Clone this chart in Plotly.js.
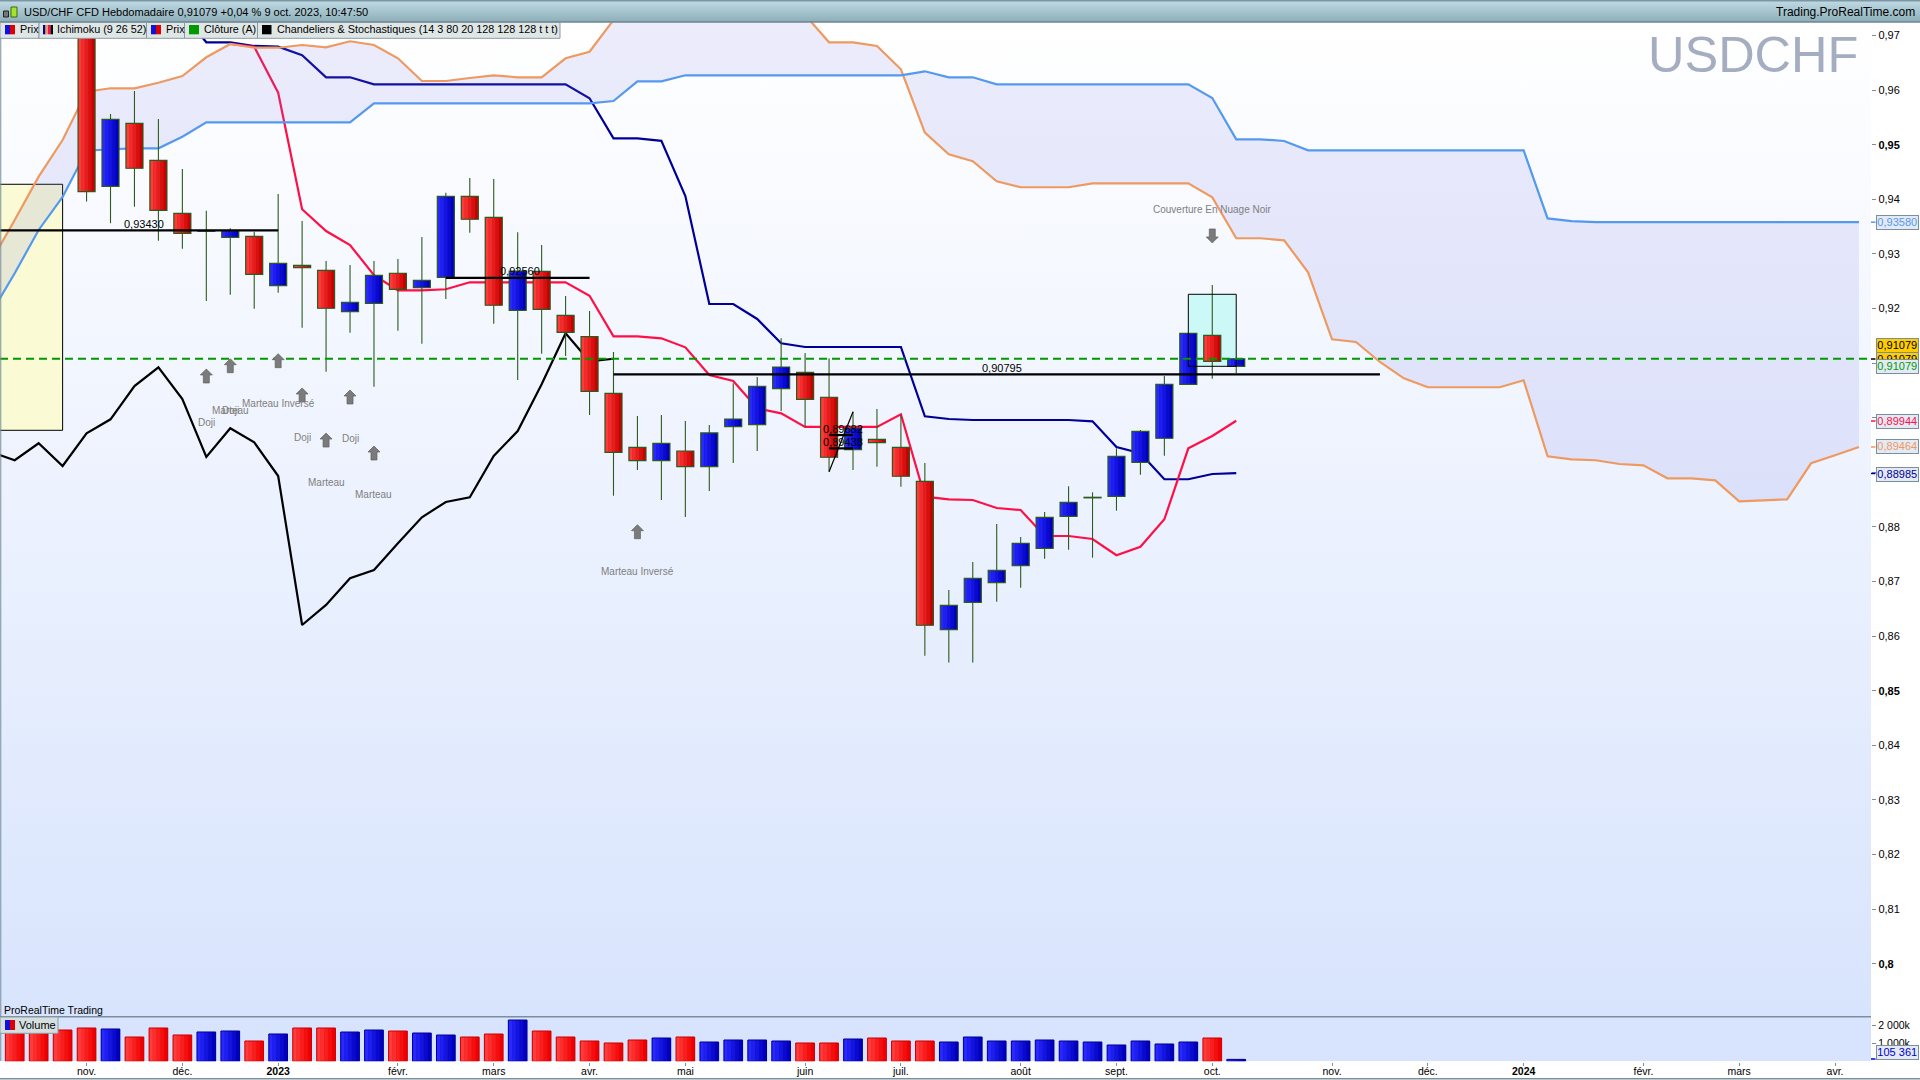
<!DOCTYPE html>
<html><head><meta charset="utf-8">
<script src="https://cdn.plot.ly/plotly-3.0.0.min.js"></script>
<style>
html,body{margin:0;padding:0;background:#fff;width:1920px;height:1080px;overflow:hidden}
#wrap{position:relative;width:1920px;height:1080px;background:#fff}
.b{position:absolute}
#head{left:0;top:0;width:1920px;height:22px;background:linear-gradient(#7d96a2 0,#7d96a2 1px,#bcd8e2 2px,#8fb0ba 21px,#6f8894 22px)}
#main{left:0;top:22px;width:1871px;height:995px;background:linear-gradient(#ffffff,#d8e4fd)}
#vol{left:0;top:1017px;width:1871px;height:44px;background:#d8e4fd}
#chart{position:absolute;left:0;top:0}
</style></head><body>
<div id="wrap"><div class="b" id="head"></div><div class="b" id="main"></div><div class="b" id="vol"></div><div id="chart"></div></div>
<script>
// ---- weekly candles, index 0 = first visible week ----
const open_=[1.0020,1.0000,0.9990,0.9990,0.94238,0.95392,0.94714,0.93743,0.93415,0.93304,0.93322,0.92417,0.92791,0.92699,0.91941,0.92095,0.92645,0.92381,0.92571,0.94055,0.9367,0.91967,0.92681,0.91875,0.91483,0.90447,0.89458,0.89212,0.8939,0.89102,0.89835,0.89872,0.90531,0.90831,0.90374,0.89414,0.89604,0.89458,0.88835,0.86117,0.86619,0.86978,0.87289,0.87608,0.88194,0.88532,0.8856,0.89183,0.89623,0.90611,0.91509,0.90941];
const high_=[1.0050,1.0056,1.0080,1.0120,0.95562,0.95983,0.95471,0.94555,0.93791,0.93469,0.93406,0.94097,0.93602,0.9287,0.92797,0.9287,0.92906,0.93309,0.94121,0.9439,0.94372,0.93395,0.93163,0.92229,0.91954,0.91203,0.90031,0.90049,0.89939,0.89866,0.9063,0.90745,0.91454,0.91185,0.91088,0.9011,0.90159,0.90049,0.8917,0.86844,0.87357,0.88053,0.87815,0.88273,0.88743,0.88634,0.89439,0.89775,0.90764,0.91546,0.9243,0.91079];
const low_=[0.9920,0.9890,0.9870,0.9396,0.9356,0.93864,0.93242,0.93095,0.92137,0.92253,0.91996,0.92289,0.91648,0.90842,0.91557,0.90568,0.91593,0.91355,0.92174,0.93388,0.91721,0.9069,0.91172,0.9113,0.90049,0.88571,0.89042,0.88492,0.88181,0.88657,0.8917,0.8939,0.90123,0.8983,0.89011,0.89042,0.89102,0.88736,0.85641,0.85516,0.85516,0.8663,0.86886,0.87417,0.87582,0.87436,0.88297,0.88956,0.89304,0.90611,0.90714,0.90813];
const close_=[0.9940,0.9950,0.9935,0.9414,0.95465,0.94568,0.93798,0.93377,0.93425,0.93425,0.92626,0.92828,0.92747,0.92004,0.92113,0.92608,0.92351,0.92516,0.94055,0.93634,0.92059,0.92687,0.91985,0.91564,0.90483,0.89366,0.89212,0.89531,0.89102,0.8972,0.89976,0.90575,0.90928,0.90337,0.89275,0.89811,0.89542,0.88927,0.86198,0.86564,0.87058,0.87205,0.877,0.88176,0.8845,0.88542,0.89293,0.89751,0.90611,0.91546,0.91033,0.91079];
const volume_=[1633,1633,1725,1835,1780,1339,1835,1450,1615,1670,1119,1505,1835,1835,1614,1724,1669,1559,1449,1339,1504,2275,1670,1339,1119,1009,1174,1284,1339,1064,1174,1174,1119,1009,1009,1229,1284,1119,1119,1064,1339,1119,1119,1174,1119,1064,899,1119,954,1064,1284,105.361];
// ---- Ichimoku lines ----
const kijunStart=7;
const kijun=[0.97412,0.96875,0.96875,0.96808,0.96795,0.96637,0.96234,0.96234,0.96106,0.96106,0.96106,0.96106,0.96106,0.96106,0.96106,0.96106,0.96106,0.9585,0.95115,0.95115,0.95071,0.9406,0.92082,0.92082,0.91808,0.91363,0.91295,0.91295,0.91295,0.91295,0.91295,0.90025,0.89976,0.89958,0.89958,0.89958,0.89958,0.89958,0.89934,0.89463,0.89348,0.88872,0.88872,0.88969,0.88985];
const tenkanStart=9;
const tenkan=[0.96844,0.96795,0.95952,0.93817,0.93419,0.93163,0.92608,0.92333,0.92333,0.92352,0.9248,0.9248,0.9248,0.9248,0.9248,0.92234,0.91491,0.91491,0.91454,0.91289,0.90782,0.90672,0.90172,0.9008,0.8983,0.8983,0.8983,0.8983,0.90062,0.88553,0.88505,0.88492,0.88346,0.88309,0.87833,0.87833,0.87778,0.8748,0.87637,0.88139,0.89439,0.89665,0.89944];
const chikouStart=-1;
const chikou=[0.89372,0.8922,0.89531,0.89115,0.89714,0.8997,0.9058,0.90923,0.90342,0.8928,0.89806,0.89549,0.88932,0.86203,0.8657,0.87058,0.8721,0.877,0.88176,0.88456,0.88542,0.89298,0.89756,0.90611,0.91546,0.91033,0.91079];
const senkouStart=-1;
const senkouA=[0.91905,0.92645,0.93438,0.94042,0.9489,0.94916,0.94934,0.94934,0.95146,0.9541,0.9541,0.9541,0.9541,0.9541,0.9541,0.9541,0.95758,0.95758,0.95758,0.95758,0.95758,0.95758,0.95758,0.95758,0.95758,0.95758,0.958,0.96161,0.96161,0.96271,0.96271,0.96271,0.96271,0.96271,0.96271,0.96271,0.96271,0.96271,0.96271,0.96344,0.96234,0.96234,0.96106,0.96106,0.96106,0.96106,0.96106,0.96106,0.96106,0.96106,0.96106,0.95855,0.95099,0.95099,0.95068,0.94897,0.94897,0.94897,0.94897,0.94897,0.94897,0.94897,0.94897,0.94897,0.94897,0.9365,0.936,0.9358,0.9358,0.9358,0.9358,0.9358,0.9358,0.9358,0.9358,0.9358,0.9358,0.9358,0.9358];
const senkouB=[0.92851,0.93621,0.94414,0.95086,0.95971,0.96033,0.96033,0.96135,0.96258,0.96601,0.96844,0.96776,0.96776,0.96826,0.96784,0.96894,0.96826,0.96582,0.96166,0.96166,0.96221,0.96271,0.96234,0.96234,0.96582,0.96703,0.97284,0.985,0.985,0.985,0.985,0.985,0.985,0.98,0.97375,0.96875,0.96875,0.96808,0.96381,0.9522,0.94824,0.94696,0.9433,0.9422,0.9422,0.9422,0.94293,0.94293,0.94293,0.94293,0.94293,0.94036,0.93286,0.93286,0.93249,0.92663,0.91436,0.91386,0.9102,0.90721,0.90557,0.90557,0.90557,0.90557,0.90685,0.89293,0.89238,0.8922,0.89152,0.89128,0.8889,0.8889,0.88853,0.88469,0.88487,0.88505,0.89165,0.89311,0.89464];
// ---- levels drawn on the chart: [from week, to week, price, label, label week] ----
const levels=[[-1,11,0.9343,"0,93430",5.4],[18,24,0.9256,"0,92560",21.1],[25,57,0.90795,"0,90795",41.2],[34,35,0.89682,"0,89682",34.6],[34,35,0.89438,"0,89438",34.6]];
const zigzagWeeks=[34,35], zigzagPrices=[0.89011,0.9011];
const lastClose=0.91079;
const yellowBox=[-2,2,0.94275,0.89769], cyanBox=[49,51,0.9226,0.90941];
// ---- pattern arrows and labels ----
const upArrows=[[8,0.90764],[9,0.90952],[11,0.91044],[12,0.90416],[13,0.89591],[14,0.90379],[15,0.89353],[26,0.87912]];
const downArrows=[[50,0.93328]];
const patterns=[["Doji",8,0.89908],["Marteau",9,0.90128],["Doji",9,0.90128],["Marteau Inversé",11,0.90256],["Doji",12,0.89634],["Doji",14,0.89615],["Marteau",13,0.88809],["Marteau",15,0.8859],["Marteau Inversé",26,0.87179],["Couverture En Nuage Noir",50,0.93822]];
// ---- axes ----
const xTickVals=[3,7,11,16,20,24,28,33,37,42,46,50,55,59,63,68,72,76];
const xTickText=["nov.","déc.","<b>2023</b>","févr.","mars","avr.","mai","juin","juil.","août","sept.","oct.","nov.","déc.","<b>2024</b>","févr.","mars","avr."];
const yTickVals=[0.97,0.96,0.95,0.94,0.93,0.92,0.91,0.90,0.89,0.88,0.87,0.86,0.85,0.84,0.83,0.82,0.81,0.80];
const yTickText=["0,97","0,96","<b>0,95</b>","0,94","0,93","0,92","0,91","<b>0,9</b>","0,89","0,88","0,87","0,86","<b>0,85</b>","0,84","0,83","0,82","0,81","<b>0,8</b>"];
const volTickVals=[1000,2000], volTickText=["1 000k","2 000k"];
const title="USD/CHF CFD Hebdomadaire 0,91079 +0,04 % 9 oct. 2023, 10:47:50";
const legendItems=["Prix","Ichimoku (9 26 52)","Prix","Clôture (A)","Chandeliers & Stochastiques (14 3 80 20 128 128 128 t t t)"];

const F='"Liberation Sans", Arial, sans-serif';
const X=p=>p/1920, Y=p=>1-p/1080;
const weeks=open_.map((_,i)=>i);
const seq=(s,a)=>a.map((_,i)=>s+i);
const AX='#7a8f9c', WICK='#2d5a1e';
function mix(a,b,t){return 'rgb('+a.map((v,k)=>Math.round(v+(b[k]-v)*t)).join(',')+')';}
const traces=[];
function line(s,a,c,w,extra){traces.push(Object.assign({type:'scatter',mode:'lines',x:seq(s,a),y:a,line:{color:c,width:w,simplify:false},hoverinfo:'skip',zorder:1,cliponaxis:true},extra||{}));}
line(kijunStart,kijun,'#000099',2.2);
line(tenkanStart,tenkan,'#ff0f45',2.2);
line(chikouStart,chikou,'#000000',2.2);
line(senkouStart,senkouB,'#ee9960',2.2);
line(senkouStart,senkouA,'#5599ee',2.2,{fill:'tonexty',fillcolor:'rgba(120,120,225,0.14)'});
line(zigzagWeeks[0],zigzagPrices,'#000000',1.2,{x:zigzagWeeks,zorder:4});
// wicks
const wx=[],wy=[];weeks.forEach(i=>{wx.push(i,i,null);wy.push(low_[i],high_[i],null);});
traces.push({type:'scatter',mode:'lines',x:wx,y:wy,line:{color:WICK,width:1.1},hoverinfo:'skip',zorder:2});
// solid bodies under the gradient strips, so no seam shows between strips
const up=weeks.map(i=>close_[i]>=open_[i]);
const N=5,W=0.71,VW=0.78;
const bases=weeks.map(i=>Math.min(open_[i],close_[i])), heights=weeks.map(i=>Math.abs(open_[i]-close_[i]));
traces.push({type:'bar',x:weeks,base:bases,y:heights,width:W,marker:{color:up.map(u=>u?'#1414e0':'#e41c1c'),line:{width:0}},hoverinfo:'skip',zorder:3});
traces.push({type:'bar',x:weeks,y:volume_,yaxis:'y2',width:VW,marker:{color:up.map(u=>u?'#1414e0':'#f81e1e'),line:{width:0}},hoverinfo:'skip'});
for(let j=0;j<N;j++){const t=j/(N-1);
 const red=mix([255,58,58],[200,0,0],t),blue=mix([40,40,255],[0,0,190],t);
 traces.push({type:'bar',x:weeks,base:bases,y:heights,
  width:W/N,offset:-W/2+j*W/N,marker:{color:up.map(u=>u?blue:red),line:{width:0}},hoverinfo:'skip',zorder:3});
 traces.push({type:'bar',x:weeks,y:volume_,yaxis:'y2',width:VW/N,offset:-VW/2+j*VW/N,marker:{color:up.map(u=>u?blue:mix([255,60,60],[240,0,0],t)),line:{width:0}},hoverinfo:'skip'});
}
traces.push({type:'bar',x:weeks,base:bases,y:heights,width:W,marker:{color:'rgba(0,0,0,0)',line:{color:WICK,width:1.2}},hoverinfo:'skip',zorder:3});
traces.push({type:'bar',x:weeks,y:volume_,yaxis:'y2',width:VW,marker:{color:'rgba(0,0,0,0)',line:{color:up.map(u=>u?'#000099':'#cc0000'),width:1}},hoverinfo:'skip'});

const shapes=[];
const rect=(x0,y0,x1,y1,fill,lc,lw)=>shapes.push({type:'rect',xref:'paper',yref:'paper',x0:X(x0),x1:X(x1),y0:Y(y0),y1:Y(y1),fillcolor:fill,line:{color:lc||'rgba(0,0,0,0)',width:lc?(lw||1):0},layer:'above'});
const hl=(x0,x1,y,c,w)=>shapes.push({type:'line',xref:'paper',yref:'paper',x0:X(x0),x1:X(x1),y0:Y(y),y1:Y(y),line:{color:c,width:w||1},layer:'above'});
// boxes
shapes.push({type:'rect',xref:'x',yref:'y',x0:yellowBox[0],x1:yellowBox[1],y0:yellowBox[2],y1:yellowBox[3],fillcolor:'#fafad4',line:{color:'#000',width:1},layer:'below'});
shapes.push({type:'rect',xref:'x',yref:'y',x0:cyanBox[0],x1:cyanBox[1],y0:cyanBox[2],y1:cyanBox[3],fillcolor:'#ccf8f8',line:{width:0},layer:'below'});
shapes.push({type:'rect',xref:'x',yref:'y',x0:cyanBox[0],x1:cyanBox[1],y0:cyanBox[2],y1:cyanBox[3],fillcolor:'rgba(0,0,0,0)',line:{color:'#000',width:1},layer:'above'});
// levels
levels.forEach(l=>shapes.push({type:'line',xref:'x',yref:'y',x0:l[0],x1:l[1],y0:l[2],y1:l[2],line:{color:'#000',width:2.2},layer:'above'}));
shapes.push({type:'line',xref:'paper',yref:'y',x0:0,x1:X(1871),y0:lastClose,y1:lastClose,line:{color:'#009900',width:2.2,dash:'8px,5px'},layer:'above'});
// arrows
const arrow=(a,dir)=>{const d=dir;const p=[[0,7*d],[6,1*d],[3,1*d],[3,-7*d],[-3,-7*d],[-3,1*d],[-6,1*d]];
 shapes.push({type:'path',xref:'x',yref:'y',xsizemode:'pixel',ysizemode:'pixel',xanchor:a[0],yanchor:a[1],path:'M'+p.map(q=>q.join(' ')).join(' L')+' Z',fillcolor:'#7b7b7b',line:{color:'#606060',width:0.7},layer:'above'});};
upArrows.forEach(a=>arrow(a,1));downArrows.forEach(a=>arrow(a,-1));
// frame
hl(0,1920,22,'#6f8894',1.5);
hl(0,1871,1016.7,AX,1.5);
hl(0,1920,1078.7,AX,1.5);
shapes.push({type:'line',xref:'paper',yref:'paper',x0:0.0004,x1:0.0004,y0:Y(22),y1:Y(1061),line:{color:AX,width:1},layer:'above'});
// legend row
const seps=[0,39,146.5,184.5,257.5,560];
for(let k=0;k<5;k++)rect(seps[k],22.5,seps[k+1],38.3,'#dfe6e6','#8a9aa4',1);
const icon2=(x)=>{rect(x,25,x+5,34.3,'#1111dd');rect(x+5,25,x+10,34.3,'#dd0000');};
icon2(5);icon2(151);
rect(43,25,45.5,34.3,'#000099');rect(45.5,25,48,34.3,'#ee9960');rect(48,25,50.5,34.3,'#ff0f45');rect(50.5,25,53,34.3,'#000');
rect(189,25,199,34.3,'#009900');rect(262,25,271.5,34.3,'#000');
// volume legend
rect(0,1017,58,1033.3,'#d5dfe0','#8a9aa4',1);
rect(5,1020,10,1030,'#1111dd');rect(10,1020,15,1030,'#dd0000');
// header icon
rect(3.5,11,8.5,17,'#777','#222',1);rect(11,7,17,17,'#a6e22e','#3a6a10',1);
// colored axis ticks
[[222.2,'#5599ee'],[359,'#000'],[421,'#ff0f45'],[447,'#ee9960'],[473.5,'#000099'],[1059,'#0000cc']].forEach(t=>hl(1871,1875.5,t[0],t[1],1.5));

const ann=[];
const T=(text,x,y,o)=>ann.push(Object.assign({text,xref:'paper',yref:'paper',x:X(x),y:Y(y),xanchor:'left',yanchor:'middle',showarrow:false,borderpad:0,font:{family:F,size:11,color:'#000'}},o||{}));
T(title,23,11.5,{font:{family:F,size:11.05,color:'#000'}});
T("Trading.ProRealTime.com",1916,11.5,{xanchor:'right',font:{family:F,size:12,color:'#000'}});
T("USDCHF",1859,54.5,{xanchor:'right',font:{family:F,size:50.5,color:'#a5adc0'}});
const lx=[18.5,56,164.5,202.5,275.5];
legendItems.forEach((s,k)=>T(s,lx[k],29.5,{font:{family:F,size:10.8,color:'#000'}}));
T("Volume",18,1024.5);
T("ProRealTime Trading",2.5,1009.8,{font:{family:F,size:10.5,color:'#000'}});
patterns.forEach(p=>ann.push({text:p[0],xref:'x',yref:'y',x:p[1],y:p[2],showarrow:false,xanchor:'center',yanchor:'middle',font:{family:F,size:10,color:'#808080'}}));
levels.forEach(l=>ann.push({text:l[3],xref:'x',yref:'y',x:l[4],y:l[2],showarrow:false,xanchor:'center',yanchor:'middle',yshift:6.5,font:{family:F,size:11,color:'#000'}}));
const box=(s,y,color,bg)=>T(s,1875.7,y,{width:40.5,height:12.5,align:'center',bgcolor:bg||'#e3eaf5',bordercolor:AX,borderwidth:1,font:{family:F,size:11,color}});
box("0,93580",222.2,'#5599ee');
box("0,91079",345,'#000','#ffcc00');
box("0,91079",359,'#000','#ffcc00');
box("0,91079",366.3,'#009900');
box("0,89944",421,'#ff0f45');
box("0,89464",447,'#ee9960');
box("0,88985",474,'#000099');
box("105 361",1052.5,'#0000cc');

const layout={width:1920,height:1080,margin:{l:0,r:0,t:0,b:0},autosize:false,paper_bgcolor:'rgba(0,0,0,0)',plot_bgcolor:'rgba(0,0,0,0)',
 showlegend:false,hovermode:false,barmode:'overlay',separators:', ',
 font:{family:F,size:11,color:'#000'},
 xaxis:{domain:[0,1870.7/1920],range:[-0.614,77.49],anchor:'y2',tickmode:'array',tickvals:xTickVals,ticktext:xTickText,ticks:'outside',ticklen:3,tickcolor:AX,ticklabelstandoff:-3,showgrid:false,zeroline:false,showline:true,linecolor:AX,linewidth:1.5,tickangle:0,tickfont:{family:F,size:10.5,color:'#000'}},
 yaxis:{domain:[Y(1016.7),Y(22)],range:[0.79029,0.97247],side:'right',anchor:'x',tickmode:'array',tickvals:yTickVals,ticktext:yTickText,ticks:'outside',ticklen:4,tickcolor:AX,showgrid:false,zeroline:false,showline:true,linecolor:AX,linewidth:1.5,tickfont:{family:F,size:11,color:'#000'}},
 yaxis2:{domain:[Y(1061.3),Y(1016.7)],range:[0,2457],side:'right',anchor:'x',tickmode:'array',tickvals:volTickVals,ticktext:volTickText,ticks:'outside',ticklen:4,tickcolor:AX,showgrid:false,zeroline:false,showline:true,linecolor:AX,linewidth:1.5,tickfont:{family:F,size:10.5,color:'#000'}},
 shapes,annotations:ann};
Plotly.newPlot('chart',traces,layout,{displayModeBar:false,staticPlot:true});
</script></body></html>
